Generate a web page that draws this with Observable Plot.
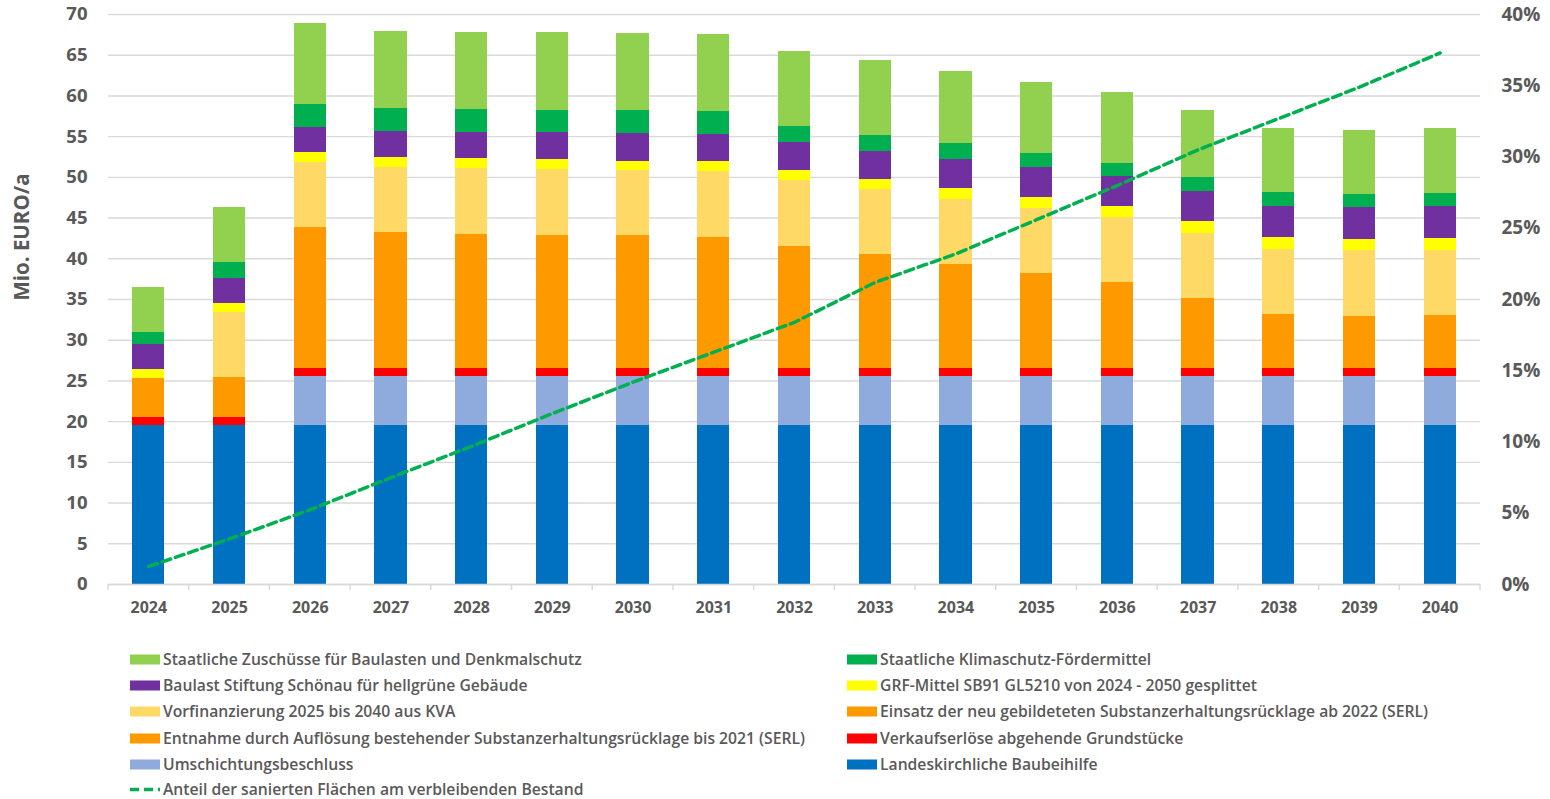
<!DOCTYPE html>
<html><head><meta charset="utf-8">
<script src="https://cdn.jsdelivr.net/npm/d3@7"></script>
<script src="https://cdn.jsdelivr.net/npm/@observablehq/plot@0.6"></script>
<style>
body{margin:0;background:#fff;font-family:"Open Sans",sans-serif;}
#wrap{position:relative;width:1550px;height:799px;overflow:hidden;background:#fff}
#chart{position:absolute;left:0;top:0}
#chart svg text{font-weight:700;fill:#595959}
#ylabel{position:absolute;left:21px;top:237px;transform:translate(-50%,-50%) rotate(-90deg);font-size:20.5px;font-weight:700;color:#595959;white-space:nowrap}
.lg{position:absolute;font-size:15.7px;font-weight:600;color:#595959;white-space:nowrap;line-height:15px;transform:translateY(-50%)}
.sw{display:inline-block;width:30px;height:10px;vertical-align:middle;margin-right:3px;position:relative;top:-1px}
.dash{display:inline-block;width:30px;height:10px;vertical-align:middle;margin-right:3px;position:relative;top:-1px}
</style></head><body><div id="wrap"><div id="chart"></div><div id="ylabel">Mio. EURO/a</div><div id="legend"></div></div>
<script>
const years = ["2024","2025","2026","2027","2028","2029","2030","2031","2032","2033","2034","2035","2036","2037","2038","2039","2040"];
const landeskirchlich = [19.5,19.5,19.5,19.5,19.5,19.5,19.5,19.5,19.5,19.5,19.5,19.5,19.5,19.5,19.5,19.5,19.5];
const umschichtung    = [0,0,6.0,6.0,6.0,6.0,6.0,6.0,6.0,6.0,6.0,6.0,6.0,6.0,6.0,6.0,6.0];
const verkauf         = [1.0,1.0,1.0,1.0,1.0,1.0,1.0,1.0,1.0,1.0,1.0,1.0,1.0,1.0,1.0,1.0,1.0];
const entnahme        = [4.75,4.9,11.4,10.7,10.5,10.4,10.3,10.15,9.05,8.0,6.8,5.7,4.55,2.6,0.7,0.45,0.55];
const einsatz         = [0,0,6.0,6.0,6.0,6.0,6.0,6.0,6.0,6.0,6.0,6.0,6.0,6.0,6.0,6.0,6.0];
const vorfinanzierung = [0,8.0,7.95,8.05,8.1,8.05,8.1,8.05,8.05,8.0,8.0,8.0,8.0,8.0,8.0,8.05,8.0];
const grf             = [1.15,1.1,1.15,1.15,1.2,1.2,1.1,1.2,1.2,1.2,1.3,1.3,1.4,1.45,1.45,1.4,1.5];
const baulast         = [3.1,3.1,3.1,3.2,3.25,3.35,3.4,3.4,3.5,3.5,3.6,3.7,3.6,3.7,3.75,3.9,3.9];
const klimaschutz     = [1.5,2.0,2.9,2.8,2.75,2.7,2.75,2.8,1.9,1.9,1.9,1.7,1.7,1.7,1.7,1.6,1.6];
const zuschuesse      = [5.5,6.7,9.9,9.5,9.5,9.55,9.5,9.5,9.3,9.2,8.9,8.8,8.7,8.3,7.9,7.9,7.9];
const anteilSaniert   = [1.27,3.2,5.25,7.5,9.7,12.0,14.2,16.3,18.4,21.2,23.2,25.6,28.0,30.5,32.7,34.9,37.3];

const yTicks = [0,5,10,15,20,25,30,35,40,45,50,55,60,65,70];
const pctTicks = [0,5,10,15,20,25,30,35,40];

const seriesNames = [
  "Landeskirchliche Baubeihilfe",
  "Umschichtungsbeschluss",
  "Verkaufserlöse abgehende Grundstücke",
  "Entnahme durch Auflösung bestehender Substanzerhaltungsrücklage bis 2021 (SERL)",
  "Einsatz der neu gebildeteten Substanzerhaltungsrücklage ab 2022 (SERL)",
  "Vorfinanzierung 2025 bis 2040 aus KVA",
  "GRF-Mittel SB91 GL5210 von 2024 - 2050 gesplittet",
  "Baulast Stiftung Schönau für hellgrüne Gebäude",
  "Staatliche Klimaschutz-Fördermittel",
  "Staatliche Zuschüsse für Baulasten und Denkmalschutz"
];
const seriesValues = [landeskirchlich, umschichtung, verkauf, entnahme, einsatz, vorfinanzierung, grf, baulast, klimaschutz, zuschuesse];
const seriesColors = ["#0070C0","#8FAADC","#FF0000","#FF9900","#FF9900","#FFD966","#FFFF00","#7030A0","#00B050","#92D050"];
const lineName = "Anteil der sanierten Flächen am verbleibenden Bestand";

const table = [];
seriesNames.forEach((s, i) => years.forEach((y, j) => table.push({year: y, series: s, value: seriesValues[i][j]})));
const lineData = years.map((y, j) => ({year: y, pct: anteilSaniert[j]}));
const k = 70 / 40;

const plot = Plot.plot({
  width: 1550, height: 640,
  marginLeft: 108, marginRight: 70, marginTop: 14, marginBottom: 56,
  style: {fontFamily: "Open Sans, sans-serif", color: "#595959", background: "#fff", overflow: "visible"},
  x: {domain: years, paddingInner: 0.6, paddingOuter: 0.3, round: false, label: null},
  y: {domain: [0, 70], label: null},
  color: {domain: seriesNames, range: seriesColors},
  marks: [
    Plot.gridY(yTicks, {stroke: "#d9d9d9", strokeOpacity: 1, strokeWidth: 1.4}),
    Plot.axisY(yTicks, {anchor: "left", tickSize: 0, tickPadding: 21, fontSize: 18.5, label: null}),
    Plot.axisY(pctTicks.map(p => p * k), {anchor: "right", tickSize: 0, tickPadding: 21, fontSize: 19, label: null, tickFormat: d => Math.round(d / k) + "%"}),
    Plot.axisX({tickSize: 0, tickPadding: 17, fontSize: 16, label: null}),
    Plot.barY(table, {x: "year", y: "value", fill: "series", order: seriesNames, shapeRendering: "crispEdges"}),
    Plot.ruleY([0], {stroke: "#d9d9d9", strokeWidth: 1.5}),
    Plot.line(lineData, {x: "year", y: d => d.pct * k, stroke: "#00B050", strokeWidth: 3.5, strokeDasharray: "9,5"})
  ]
});
document.getElementById("chart").appendChild(plot);

// tick marks at category boundaries, from the library's x scale
const xs = plot.scale("x");
const yS = plot.scale("y");
const svg = d3.select(plot);
const y0 = yS.apply(0);
const bounds = years.map(y => xs.apply(y) + xs.bandwidth / 2 - xs.step / 2);
bounds.push(xs.apply(years[years.length - 1]) + xs.bandwidth / 2 + xs.step / 2);
svg.append("g").selectAll("line").data(bounds).join("line")
  .attr("x1", d => d).attr("x2", d => d).attr("y1", y0).attr("y2", y0 + 6)
  .attr("stroke", "#d9d9d9").attr("stroke-width", 1.4);

// legend (Excel-like, two columns, row-major in reverse stacking order)
const legendOrder = [
  [9, 0], [8, 1],
  [7, 0], [6, 1],
  [5, 0], [4, 1],
  [3, 0], [2, 1],
  [1, 0], [0, 1]
];
const rowY = [659, 685, 711, 738, 764, 789];
const colX = [130, 847];
const leg = document.getElementById("legend");
legendOrder.forEach(([si, col], n) => {
  const row = Math.floor(n / 2);
  const d = document.createElement("div");
  d.className = "lg";
  d.style.left = colX[col] + "px";
  d.style.top = rowY[row] + "px";
  d.innerHTML = `<span class="sw" style="background:${seriesColors[si]}"></span>${seriesNames[si]}`;
  leg.appendChild(d);
});
{
  const d = document.createElement("div");
  d.className = "lg";
  d.style.left = colX[0] + "px";
  d.style.top = rowY[5] + "px";
  d.innerHTML = `<svg class="dash" width="30" height="10"><line x1="0" y1="5" x2="30" y2="5" stroke="#00B050" stroke-width="3.5" stroke-dasharray="9,5"/></svg>${lineName}`;
  leg.appendChild(d);
}
</script></body></html>
